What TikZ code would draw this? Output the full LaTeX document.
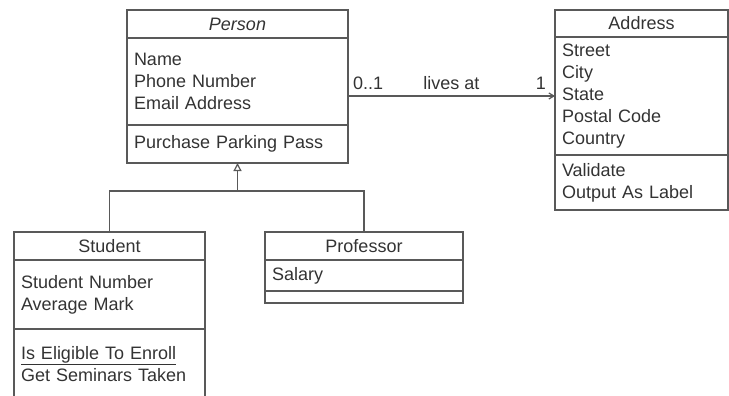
\documentclass[tikz,border=0pt]{standalone}
\usepackage{fontspec}
\setmainfont{Liberation Sans}
\usetikzlibrary{arrows.meta}

\colorlet{umlline}{black!65}
\colorlet{umltext}{black!80}

\tikzset{
  umlpart/.style={draw=umlline, line width=1.2pt, outer sep=0pt, inner xsep=7pt, inner ysep=0pt,
    anchor=north west, align=left, text=umltext, font=\fontsize{18}{22}\selectfont},
  umlname/.style={umlpart, align=center},
  umllink/.style={draw=umlline, line width=1.2pt},
  umllabel/.style={anchor=base, yshift=7pt, text=umltext, font=\fontsize{18}{22}\selectfont},
}

\begin{document}
\begin{tikzpicture}[x=1pt,y=-1pt]
  \useasboundingbox (0,0) rectangle (729,396);
  \clip (0,0) rectangle (729,396);

  % Person
  \node[umlname, text width=207pt, minimum height=28pt] (person) at (127,10) {\textit{Person}};
  \node[umlpart, text width=207pt, minimum height=87pt] (person-attr) at (person.south west)
    {Name\\Phone Number\\Email Address};
  \node[umlpart, text width=207pt, minimum height=38pt] (person-ops) at (person-attr.south west)
    {Purchase Parking Pass};

  % Address
  \node[umlname, text width=159pt, minimum height=27pt] (address) at (555,10) {Address};
  \node[umlpart, text width=159pt, minimum height=118pt] (address-attr) at (address.south west)
    {Street\\City\\State\\Postal Code\\Country};
  \node[umlpart, text width=159pt, minimum height=55pt] (address-ops) at (address-attr.south west)
    {Validate\\Output As Label};

  % Student
  \node[umlname, text width=177pt, minimum height=28pt] (student) at (14,232) {Student};
  \node[umlpart, text width=177pt, minimum height=69pt] (student-attr) at (student.south west)
    {Student Number\\Average Mark};
  \node[umlpart, text width=177pt, minimum height=70pt] (student-ops) at (student-attr.south west)
    {\underline{Is Eligible To Enroll}\\Get Seminars Taken};

  % Professor
  \node[umlname, text width=184pt, minimum height=28pt] (professor) at (265,232) {Professor};
  \node[umlpart, text width=184pt, minimum height=31pt] (professor-attr) at (professor.south west)
    {Salary};
  \node[umlpart, text width=184pt, minimum height=12pt] (professor-ops) at (professor-attr.south west) {};

  % inheritance
  \coordinate (fork) at (person-ops.south |- 0,191);
  \draw[umllink] (student.north) |- (fork) -| (professor.north);
  \draw[umllink, -{Triangle[open, length=8pt, width=8pt]}] (fork) -- (person-ops.south);

  % association
  \draw[umllink, -{Straight Barb[length=5pt, width=6pt]}] (address-attr.west -| person-attr.east) -- (address-attr.west)
    node[umllabel, pos=0.097] {0..1}
    node[umllabel, pos=0.5] {lives at}
    node[umllabel, pos=0.932] {1};
\end{tikzpicture}
\end{document}
